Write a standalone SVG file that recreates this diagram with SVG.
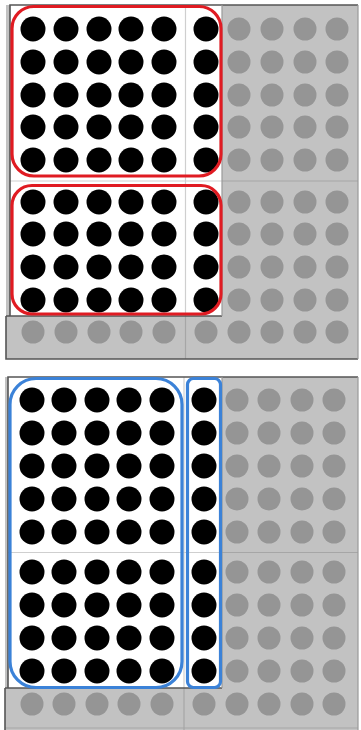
<svg xmlns="http://www.w3.org/2000/svg" width="361" height="730" viewBox="0 0 361 730">
<style>
.bg{fill:#c2c2c2;stroke:none}
.card{fill:#ffffff}
.edge{stroke:#555;stroke-width:1.6;fill:none}
.edgel{stroke:#9a9a9a;stroke-width:1.2;fill:none}
.sepw{stroke:#cfcfcf;stroke-width:1.2}
.sepg{stroke:#a6a6a6;stroke-width:1.2}
.b{fill:#000}
.g{fill:#959595}
.red{fill:none;stroke:#e01b22;stroke-width:3.2}
.blue{fill:none;stroke:#3b82d8;stroke-width:3.2}
</style>
<g id="top-panel">
<rect class="bg" x="6" y="5" width="352" height="354"/>
<rect class="card" x="10" y="5" width="212" height="311"/>
<line class="sepw" x1="185.5" y1="5" x2="185.5" y2="316"/>
<line class="sepw" x1="10" y1="181" x2="222" y2="181"/>
<line class="sepg" x1="185.5" y1="316" x2="185.5" y2="359"/>
<line class="sepg" x1="222" y1="181" x2="358" y2="181"/>
<path class="edge" d="M10,316 V5 H358"/>
<path class="edge" d="M6,316 H222 M6,316 V359 H358"/>
<path class="edgel" d="M222,5 V316 M358,5 V359"/>
<g id="top-dots">
<g class="b">
<circle cx="33" cy="29" r="12.5"/><circle cx="66" cy="29" r="12.5"/><circle cx="99" cy="29" r="12.5"/><circle cx="131" cy="29" r="12.5"/><circle cx="164" cy="29" r="12.5"/><circle cx="206" cy="29" r="12.5"/>
<circle cx="33" cy="62" r="12.5"/><circle cx="66" cy="62" r="12.5"/><circle cx="99" cy="62" r="12.5"/><circle cx="131" cy="62" r="12.5"/><circle cx="164" cy="62" r="12.5"/><circle cx="206" cy="62" r="12.5"/>
<circle cx="33" cy="95" r="12.5"/><circle cx="66" cy="95" r="12.5"/><circle cx="99" cy="95" r="12.5"/><circle cx="131" cy="95" r="12.5"/><circle cx="164" cy="95" r="12.5"/><circle cx="206" cy="95" r="12.5"/>
<circle cx="33" cy="127" r="12.5"/><circle cx="66" cy="127" r="12.5"/><circle cx="99" cy="127" r="12.5"/><circle cx="131" cy="127" r="12.5"/><circle cx="164" cy="127" r="12.5"/><circle cx="206" cy="127" r="12.5"/>
<circle cx="33" cy="160" r="12.5"/><circle cx="66" cy="160" r="12.5"/><circle cx="99" cy="160" r="12.5"/><circle cx="131" cy="160" r="12.5"/><circle cx="164" cy="160" r="12.5"/><circle cx="206" cy="160" r="12.5"/>
<circle cx="33" cy="202" r="12.5"/><circle cx="66" cy="202" r="12.5"/><circle cx="99" cy="202" r="12.5"/><circle cx="131" cy="202" r="12.5"/><circle cx="164" cy="202" r="12.5"/><circle cx="206" cy="202" r="12.5"/>
<circle cx="33" cy="234" r="12.5"/><circle cx="66" cy="234" r="12.5"/><circle cx="99" cy="234" r="12.5"/><circle cx="131" cy="234" r="12.5"/><circle cx="164" cy="234" r="12.5"/><circle cx="206" cy="234" r="12.5"/>
<circle cx="33" cy="267" r="12.5"/><circle cx="66" cy="267" r="12.5"/><circle cx="99" cy="267" r="12.5"/><circle cx="131" cy="267" r="12.5"/><circle cx="164" cy="267" r="12.5"/><circle cx="206" cy="267" r="12.5"/>
<circle cx="33" cy="300" r="12.5"/><circle cx="66" cy="300" r="12.5"/><circle cx="99" cy="300" r="12.5"/><circle cx="131" cy="300" r="12.5"/><circle cx="164" cy="300" r="12.5"/><circle cx="206" cy="300" r="12.5"/>
</g>
<g class="g">
<circle cx="239" cy="29" r="11.5"/><circle cx="272" cy="29" r="11.5"/><circle cx="305" cy="29" r="11.5"/><circle cx="337" cy="29" r="11.5"/>
<circle cx="239" cy="62" r="11.5"/><circle cx="272" cy="62" r="11.5"/><circle cx="305" cy="62" r="11.5"/><circle cx="337" cy="62" r="11.5"/>
<circle cx="239" cy="95" r="11.5"/><circle cx="272" cy="95" r="11.5"/><circle cx="305" cy="95" r="11.5"/><circle cx="337" cy="95" r="11.5"/>
<circle cx="239" cy="127" r="11.5"/><circle cx="272" cy="127" r="11.5"/><circle cx="305" cy="127" r="11.5"/><circle cx="337" cy="127" r="11.5"/>
<circle cx="239" cy="160" r="11.5"/><circle cx="272" cy="160" r="11.5"/><circle cx="305" cy="160" r="11.5"/><circle cx="337" cy="160" r="11.5"/>
<circle cx="239" cy="202" r="11.5"/><circle cx="272" cy="202" r="11.5"/><circle cx="305" cy="202" r="11.5"/><circle cx="337" cy="202" r="11.5"/>
<circle cx="239" cy="234" r="11.5"/><circle cx="272" cy="234" r="11.5"/><circle cx="305" cy="234" r="11.5"/><circle cx="337" cy="234" r="11.5"/>
<circle cx="239" cy="267" r="11.5"/><circle cx="272" cy="267" r="11.5"/><circle cx="305" cy="267" r="11.5"/><circle cx="337" cy="267" r="11.5"/>
<circle cx="239" cy="300" r="11.5"/><circle cx="272" cy="300" r="11.5"/><circle cx="305" cy="300" r="11.5"/><circle cx="337" cy="300" r="11.5"/>
<circle cx="33" cy="332" r="11.5"/><circle cx="66" cy="332" r="11.5"/><circle cx="99" cy="332" r="11.5"/><circle cx="131" cy="332" r="11.5"/><circle cx="164" cy="332" r="11.5"/><circle cx="206" cy="332" r="11.5"/><circle cx="239" cy="332" r="11.5"/><circle cx="272" cy="332" r="11.5"/><circle cx="305" cy="332" r="11.5"/><circle cx="337" cy="332" r="11.5"/>
</g>
</g>
<rect id="red-top" class="red" x="12" y="6.5" width="209" height="169.5" rx="22"/>
<rect id="red-bottom" class="red" x="12" y="185.5" width="209" height="128.5" rx="20"/>
</g>
<g id="bottom-panel">
<rect class="bg" x="5" y="377" width="353" height="353"/>
<rect class="card" x="8" y="377" width="214" height="311"/>
<line class="sepw" x1="184" y1="377" x2="184" y2="688"/>
<line class="sepw" x1="8" y1="552.5" x2="222" y2="552.5"/>
<line class="sepg" x1="184" y1="688" x2="184" y2="730"/>
<line class="sepg" x1="222" y1="552.5" x2="358" y2="552.5"/>
<line class="sepg" x1="5" y1="728" x2="358" y2="728"/>
<path class="edge" d="M8,688 V377 H358"/>
<path class="edge" d="M5,688 H222 M5,688 V730"/>
<path class="edgel" d="M222,377 V688 M358,377 V730"/>
<g id="bottom-dots">
<g class="b">
<circle cx="32" cy="400" r="12.5"/><circle cx="64" cy="400" r="12.5"/><circle cx="97" cy="400" r="12.5"/><circle cx="129" cy="400" r="12.5"/><circle cx="162" cy="400" r="12.5"/><circle cx="204" cy="400" r="12.5"/>
<circle cx="32" cy="433" r="12.5"/><circle cx="64" cy="433" r="12.5"/><circle cx="97" cy="433" r="12.5"/><circle cx="129" cy="433" r="12.5"/><circle cx="162" cy="433" r="12.5"/><circle cx="204" cy="433" r="12.5"/>
<circle cx="32" cy="466" r="12.5"/><circle cx="64" cy="466" r="12.5"/><circle cx="97" cy="466" r="12.5"/><circle cx="129" cy="466" r="12.5"/><circle cx="162" cy="466" r="12.5"/><circle cx="204" cy="466" r="12.5"/>
<circle cx="32" cy="499" r="12.5"/><circle cx="64" cy="499" r="12.5"/><circle cx="97" cy="499" r="12.5"/><circle cx="129" cy="499" r="12.5"/><circle cx="162" cy="499" r="12.5"/><circle cx="204" cy="499" r="12.5"/>
<circle cx="32" cy="532" r="12.5"/><circle cx="64" cy="532" r="12.5"/><circle cx="97" cy="532" r="12.5"/><circle cx="129" cy="532" r="12.5"/><circle cx="162" cy="532" r="12.5"/><circle cx="204" cy="532" r="12.5"/>
<circle cx="32" cy="572" r="12.5"/><circle cx="64" cy="572" r="12.5"/><circle cx="97" cy="572" r="12.5"/><circle cx="129" cy="572" r="12.5"/><circle cx="162" cy="572" r="12.5"/><circle cx="204" cy="572" r="12.5"/>
<circle cx="32" cy="605" r="12.5"/><circle cx="64" cy="605" r="12.5"/><circle cx="97" cy="605" r="12.5"/><circle cx="129" cy="605" r="12.5"/><circle cx="162" cy="605" r="12.5"/><circle cx="204" cy="605" r="12.5"/>
<circle cx="32" cy="638" r="12.5"/><circle cx="64" cy="638" r="12.5"/><circle cx="97" cy="638" r="12.5"/><circle cx="129" cy="638" r="12.5"/><circle cx="162" cy="638" r="12.5"/><circle cx="204" cy="638" r="12.5"/>
<circle cx="32" cy="671" r="12.5"/><circle cx="64" cy="671" r="12.5"/><circle cx="97" cy="671" r="12.5"/><circle cx="129" cy="671" r="12.5"/><circle cx="162" cy="671" r="12.5"/><circle cx="204" cy="671" r="12.5"/>
</g>
<g class="g">
<circle cx="237" cy="400" r="11.5"/><circle cx="269" cy="400" r="11.5"/><circle cx="302" cy="400" r="11.5"/><circle cx="334" cy="400" r="11.5"/>
<circle cx="237" cy="433" r="11.5"/><circle cx="269" cy="433" r="11.5"/><circle cx="302" cy="433" r="11.5"/><circle cx="334" cy="433" r="11.5"/>
<circle cx="237" cy="466" r="11.5"/><circle cx="269" cy="466" r="11.5"/><circle cx="302" cy="466" r="11.5"/><circle cx="334" cy="466" r="11.5"/>
<circle cx="237" cy="499" r="11.5"/><circle cx="269" cy="499" r="11.5"/><circle cx="302" cy="499" r="11.5"/><circle cx="334" cy="499" r="11.5"/>
<circle cx="237" cy="532" r="11.5"/><circle cx="269" cy="532" r="11.5"/><circle cx="302" cy="532" r="11.5"/><circle cx="334" cy="532" r="11.5"/>
<circle cx="237" cy="572" r="11.5"/><circle cx="269" cy="572" r="11.5"/><circle cx="302" cy="572" r="11.5"/><circle cx="334" cy="572" r="11.5"/>
<circle cx="237" cy="605" r="11.5"/><circle cx="269" cy="605" r="11.5"/><circle cx="302" cy="605" r="11.5"/><circle cx="334" cy="605" r="11.5"/>
<circle cx="237" cy="638" r="11.5"/><circle cx="269" cy="638" r="11.5"/><circle cx="302" cy="638" r="11.5"/><circle cx="334" cy="638" r="11.5"/>
<circle cx="237" cy="671" r="11.5"/><circle cx="269" cy="671" r="11.5"/><circle cx="302" cy="671" r="11.5"/><circle cx="334" cy="671" r="11.5"/>
<circle cx="32" cy="704" r="11.5"/><circle cx="64" cy="704" r="11.5"/><circle cx="97" cy="704" r="11.5"/><circle cx="129" cy="704" r="11.5"/><circle cx="162" cy="704" r="11.5"/><circle cx="204" cy="704" r="11.5"/><circle cx="237" cy="704" r="11.5"/><circle cx="269" cy="704" r="11.5"/><circle cx="302" cy="704" r="11.5"/><circle cx="334" cy="704" r="11.5"/>
</g>
</g>
<rect id="blue-left" class="blue" x="10" y="378.5" width="172" height="309" rx="26"/>
<rect id="blue-right" class="blue" x="187.5" y="378.5" width="33" height="309" rx="6"/>
</g>
</svg>
